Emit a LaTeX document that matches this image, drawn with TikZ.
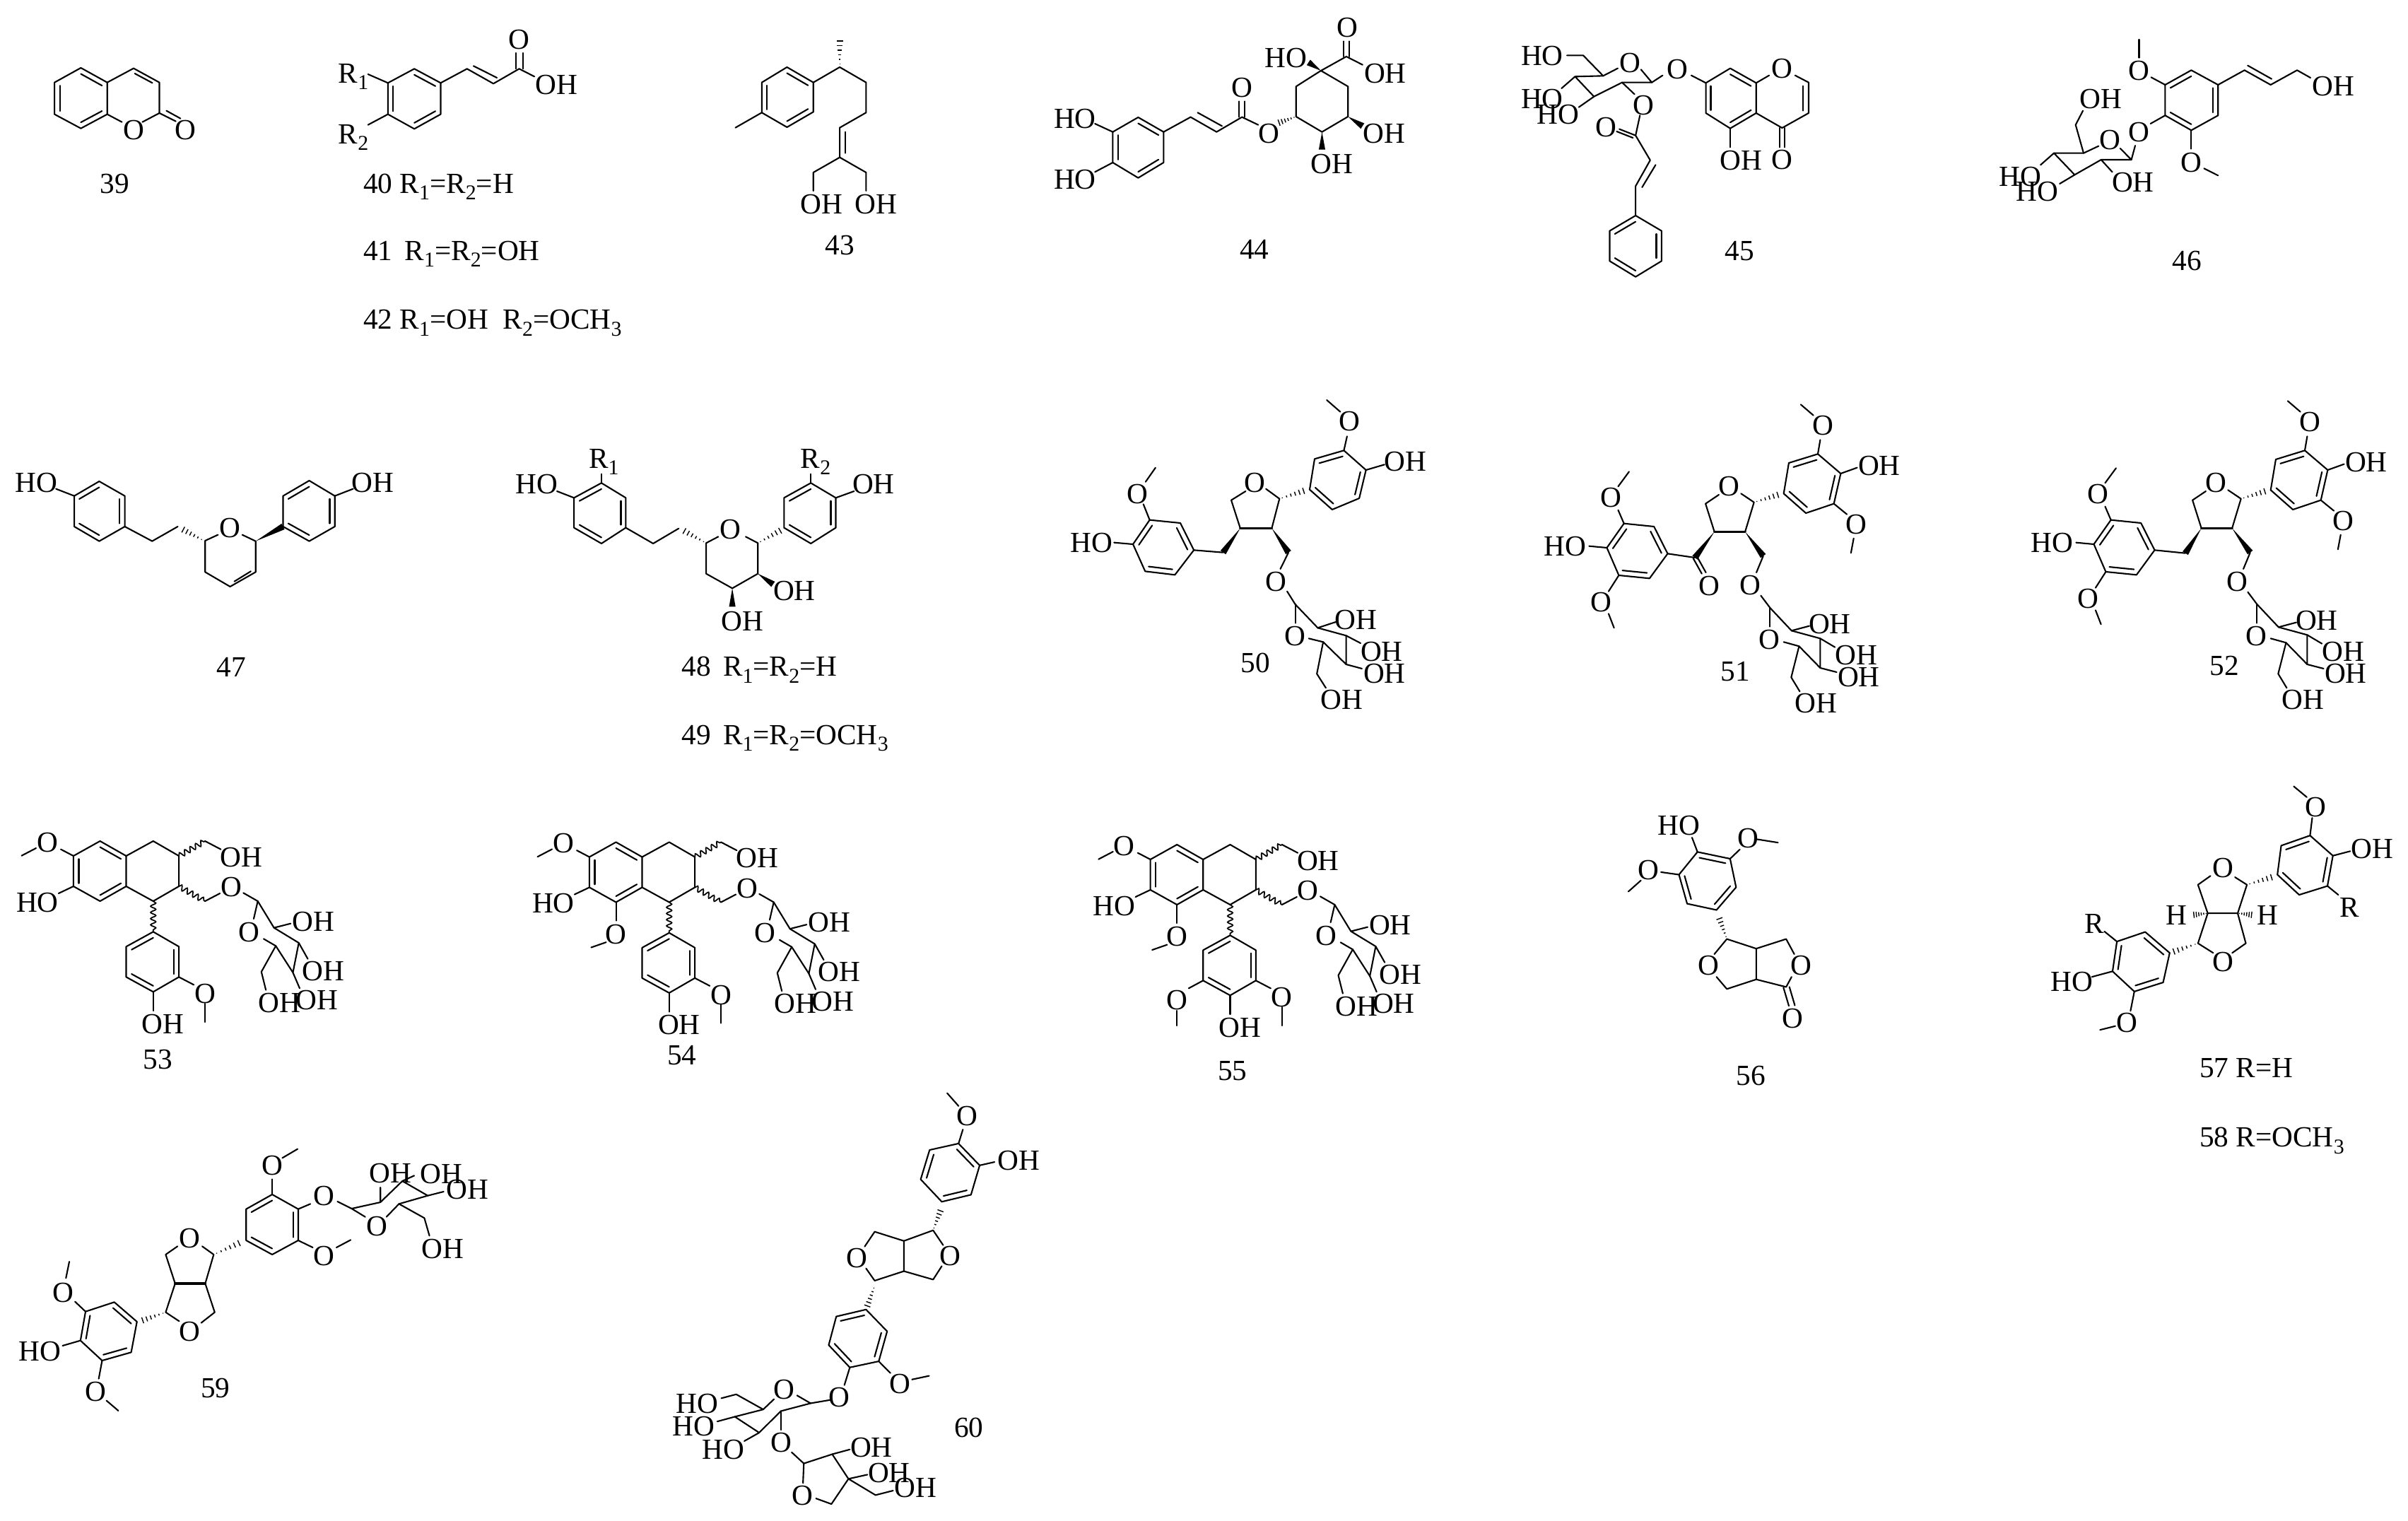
\documentclass[tikz,border=0pt]{standalone}
\usepackage{fontspec}
\setmainfont{Liberation Serif}
\usetikzlibrary{calc,decorations.pathmorphing}
\def\ux{0.02cm}
\newcounter{nd}
\tikzset{
  bond/.style={line width=1.2pt,line cap=round,line join=round},
  wavyb/.style={line width=1pt,decorate,decoration={snake,amplitude=2.1pt,segment length=5pt}},
  atom/.style={inner sep=0pt,outer sep=0pt,font=\fontsize{23.5}{25}\selectfont,text height=15.6pt,text depth=0pt},
  zm/.style n args={4}{shift={(#1*\ux,-#2*\ux)},x=\ux/#3,y=-\ux/#4}
}
\newcommand\B[1]{\draw[bond] #1;}
\newcommand\tx[2]{\stepcounter{nd}\node[atom] (n\arabic{nd}) at (#1) {#2};}
\newcommand\txl[2]{\stepcounter{nd}\node[atom,anchor=west] (n\arabic{nd}) at (#1) {#2};}
\newcommand\sbs[1]{\raisebox{-0.24em}{\fontsize{17}{17}\selectfont #1}}
\newcommand\wdg[2]{\fill ($(#2)!2.6pt!90:(#1)$) -- ($(#2)!2.6pt!-90:(#1)$) -- (#1) -- cycle;}
\newcommand\hsh[2]{\foreach \hs in {0.1,0.25,0.4,0.55,0.7,0.85,1}{\pgfmathsetmacro\hw{\hs*3}\draw[line width=0.8pt] ($(#1)!\hs!(#2)!\hw pt!90:(#2)$) -- ($(#1)!\hs!(#2)!\hw pt!-90:(#2)$);}}
\newcommand\wvy[2]{\draw[wavyb] (#1) -- (#2);}
\newcommand\hexring[7]{
  \coordinate (r1) at (#1);\coordinate (r2) at (#2);\coordinate (r3) at (#3);
  \coordinate (r4) at (#4);\coordinate (r5) at (#5);\coordinate (r6) at (#6);\coordinate (r7) at (#1);
  \coordinate (rc) at ($(r1)!.5!(r4)$);
  \draw[bond] (r1)--(r2)--(r3)--(r4)--(r5)--(r6)--cycle;
  \foreach \ei in {#7}{\pgfmathtruncatemacro\ej{\ei+1}\draw[bond] ($(r\ei)!.2!(rc)$)--($(r\ej)!.2!(rc)$);}
}
% shared body of 51 and 52
\newcommand\ligFive{
  \hexring{1265,292}{1332,375}{1312,503}{1230,543}{1165,460}{1180,330}{6,2,4}
  \tx{1280,170}{O}\B{(1265,292)--(1272,232)}\B{(1252,128)--(1215,82)}
  \tx{1445,340}{OH}\B{(1332,375)--(1380,350)}
  \tx{1378,590}{O}\B{(1312,503)--(1350,548)}\B{(1370,650)--(1362,712)}
  \tx{1005,428}{O}\B{(975,465)--(936,503)--(962,622)}\B{(1052,622)--(1078,497)--(1040,460)}
  \draw[bond,line width=1.9pt] (962,622)--(1052,622);
  \hsh{1078,497}{1160,460}
  \hexring{697,587}{785,600}{825,715}{772,820}{682,807}{647,690}{2,4,6}
  \tx{660,475}{O}\B{(697,587)--(680,530)}\B{(680,430)--(712,367)}
  \tx{525,683}{HO}\B{(647,690)--(595,683)}
  \tx{630,920}{O}\B{(682,807)--(652,875)}\B{(652,970)--(668,1030)}
  \wdg{1052,622}{1105,725}\B{(1105,725)--(1085,795)}\tx{1068,848}{O}
  \B{(1098,893)--(1125,945)--(1188,1042)}\B{(1125,945)--(1125,1025)}\tx{1122,1080}{O}
  \B{(1188,1042)--(1272,1075)--(1272,1200)--(1210,1108)--(1165,1090)}
  \B{(1210,1108)--(1187,1240)--(1212,1300)}\tx{1260,1348}{OH}
  \tx{1300,1012}{OH}\B{(1188,1042)--(1240,1022)}
  \tx{1378,1145}{OH}\B{(1272,1075)--(1315,1112)}
  \tx{1385,1238}{OH}\B{(1272,1200)--(1320,1218)}
}
% shared body of 53, 54 and 55
\newcommand\ligB{
  \hexring{222,180}{280,243}{280,372}{222,435}{163,372}{163,243}{1,3,5}
  \B{(280,243)--(340,180)--(397,243)--(397,372)--(340,435)--(280,372)}
  \tx{105,185}{O}\B{(163,243)--(135,215)}\B{(80,210)--(48,242)}
  \tx{83,440}{HO}\B{(163,372)--(130,402)}
  \wvy{397,243}{455,180}\B{(455,180)--(490,215)}\tx{535,248}{OH}
  \wvy{397,372}{455,435}\B{(455,435)--(488,402)}\tx{513,375}{O}
  \B{(540,400)--(572,435)--(608,548)--(663,612)--(650,738)--(612,625)--(585,595)}
  \B{(572,435)--(563,510)}\tx{553,565}{O}
  \B{(612,625)--(580,735)--(590,812)}\tx{620,865}{OH}
  \B{(608,548)--(645,530)}\tx{695,520}{OH}
  \B{(663,612)--(683,680)}\tx{718,730}{OH}
  \B{(650,738)--(665,805)}\tx{703,855}{OH}
  \wvy{340,435}{340,565}
  \hexring{340,565}{397,628}{397,757}{340,820}{280,757}{280,628}{6,2,4}
  \tx{455,828}{O}\B{(397,757)--(430,790)}\B{(455,870)--(455,948)}
  \tx{362,955}{OH}\B{(340,820)--(340,900)}
}
\begin{document}
\begin{tikzpicture}
\useasboundingbox (0,0) rectangle (3407*\ux,-2151*\ux);
% ---------- 39 to 43
\begin{scope}[zm={0}{0}{1.206}{3}]
  \hexring{138,288}{183,350}{183,485}{138,545}{93,485}{93,350}{1,3,5}
  \B{(183,350)--(228,290)--(272,350)--(272,480)--(243,518)}\B{(183,485)--(208,518)}
  \B{(230,312)--(260,352)}
  \B{(272,480)--(300,515)}\B{(284,470)--(308,503)}
  \tx{228,552}{O}\tx{316,550}{O}\tx{196,778}{39}
  \hexring{707,292}{752,352}{752,485}{707,547}{662,485}{662,352}{1,3,5}
  \tx{603,310}{R\sbs{1}}\B{(662,352)--(628,315)}
  \tx{603,568}{R\sbs{2}}\B{(662,485)--(628,530)}
  \B{(752,352)--(797,292)--(842,355)--(886,292)--(912,325)}
  \B{(808,280)--(848,330)}
  \B{(880,292)--(880,225)}\B{(892,292)--(892,225)}
  \tx{886,168}{O}\tx{950,360}{OH}
  \txl{620,778}{40 R\sbs{1}=R\sbs{2}=H}
  \txl{620,1063}{41\, R\sbs{1}=R\sbs{2}=OH}
  \txl{620,1355}{42 R\sbs{1}=OH\ \ R\sbs{2}=OCH\sbs{3}}
  \hexring{1343,285}{1388,350}{1388,475}{1343,540}{1300,478}{1300,350}{1,3,5}
  \B{(1300,478)--(1255,542)}
  \B{(1388,350)--(1433,285)--(1478,350)--(1478,478)--(1433,542)--(1433,668)--(1388,732)--(1388,810)}
  \B{(1443,560)--(1443,650)}\B{(1433,668)--(1478,732)--(1478,810)}
  \hsh{1433,285}{1433,155}
  \tx{1402,866}{OH}\tx{1495,866}{OH}\tx{1433,1040}{43}
\end{scope}
% ---------- 44, 45
\begin{scope}[zm={1400}{0}{1.307}{3}]
  \hexring{275,498}{322,560}{322,690}{275,755}{228,690}{228,560}{1,3,5}
  \tx{158,502}{HO}\B{(228,560)--(195,525)}
  \tx{158,760}{HO}\B{(228,690)--(195,730)}
  \B{(322,560)--(372,497)--(420,560)--(467,497)--(497,530)}\B{(385,478)--(430,535)}
  \B{(462,497)--(462,430)}\B{(472,497)--(472,430)}
  \tx{467,372}{O}\tx{517,565}{O}
  \B{(613,300)--(663,367)--(663,495)--(615,560)--(567,495)--(567,367)--cycle}
  \hsh{567,495}{530,525}
  \wdg{663,495}{690,535}\tx{730,565}{OH}
  \wdg{615,560}{615,635}\tx{633,695}{OH}
  \wdg{613,300}{590,265}\tx{548,245}{HO}
  \B{(613,300)--(660,240)--(690,275)}
  \B{(655,240)--(655,175)}\B{(665,240)--(665,175)}
  \tx{662,115}{O}\tx{732,310}{OH}\tx{490,1057}{44}
  \hexring{1370,290}{1418,352}{1418,480}{1370,545}{1325,480}{1325,352}{1,3,5}
  \tx{1466,290}{O}\B{(1418,352)--(1442,320)}
  \B{(1490,320)--(1515,350)--(1515,480)--(1466,543)--(1418,480)}\B{(1505,365)--(1505,470)}
  \B{(1461,543)--(1461,625)}\B{(1471,543)--(1471,625)}\tx{1466,678}{O}
  \tx{1390,680}{OH}\B{(1370,545)--(1370,625)}
  \tx{1272,292}{O}\B{(1325,352)--(1298,320)}\B{(1245,320)--(1225,350)}
  \tx{1185,265}{O}
  \B{(1205,295)--(1225,350)--(1170,350)--(1118,410)--(1083,325)--(1135,322)--(1162,290)}
  \B{(1135,322)--(1098,235)--(1068,235)}\tx{1022,237}{HO}
  \B{(1083,325)--(1058,375)}\tx{1022,420}{HO}
  \B{(1118,410)--(1090,455)}\tx{1052,485}{HO}
  \B{(1170,350)--(1193,400)}\tx{1210,445}{O}
  \B{(1203,490)--(1195,575)--(1222,680)--(1195,790)--(1195,915)}
  \B{(1195,575)--(1165,548)}\B{(1190,585)--(1160,558)}\tx{1140,540}{O}
  \B{(1232,700)--(1207,795)}
  \hexring{1195,915}{1243,980}{1243,1108}{1195,1175}{1147,1108}{1147,980}{6,2,4}
  \tx{1387,1065}{45}
\end{scope}
% ---------- 46
\begin{scope}[zm={2700}{0}{2.218}{3}]
  \hexring{888,298}{972,360}{972,490}{888,553}{806,490}{806,360}{6,2,4}
  \tx{724,300}{O}\B{(806,360)--(762,328)}\B{(724,245)--(724,168)}
  \tx{888,688}{O}\B{(888,553)--(888,632)}\B{(928,715)--(972,745)}
  \tx{724,560}{O}\B{(806,490)--(760,525)}
  \B{(972,360)--(1055,298)--(1137,360)--(1220,298)--(1262,330)}\B{(1065,278)--(1140,335)}
  \tx{1333,365}{OH}
  \tx{632,592}{O}
  \B{(712,618)--(700,678)}
  \B{(665,630)--(700,678)--(605,678)--(522,742)--(457,650)--(550,650)--(597,620)}
  \B{(550,650)--(525,530)--(548,470)}\tx{605,420}{OH}
  \B{(457,650)--(415,700)}\tx{352,748}{HO}
  \B{(522,742)--(475,780)}\tx{405,812}{HO}
  \B{(605,678)--(640,730)}\tx{705,772}{OH}
  \tx{875,1105}{46}
\end{scope}
% ---------- 47, 48, 49
\begin{scope}[zm={0}{600}{1.161}{3}]
  \hexring{163,243}{205,305}{205,435}{163,497}{122,435}{122,305}{6,2,4}
  \tx{60,247}{HO}\B{(122,305)--(92,275)}
  \B{(205,435)--(250,497)--(292,435)}\hsh{335,495}{295,440}
  \B{(358,470)--(337,495)--(337,628)--(378,690)--(420,628)--(420,497)--(398,470)}
  \B{(385,668)--(412,625)}
  \tx{378,440}{O}
  \wdg{420,497}{465,435}
  \hexring{508,240}{550,305}{550,435}{508,497}{465,435}{465,305}{6,2,4}
  \tx{612,247}{OH}\B{(550,305)--(580,275)}
  \tx{380,1030}{47}
  \hexring{988,250}{1028,313}{1028,440}{988,507}{943,440}{943,313}{6,2,4}
  \tx{992,145}{R\sbs{1}}\B{(988,250)--(988,212)}
  \tx{882,255}{HO}\B{(943,313)--(915,285)}
  \B{(1028,440)--(1073,507)--(1115,443)}\hsh{1160,505}{1118,445}
  \B{(1180,478)--(1160,505)--(1160,635)--(1203,697)--(1245,635)--(1245,505)--(1225,478)}
  \tx{1200,445}{O}
  \wdg{1245,635}{1270,680}\tx{1305,708}{OH}
  \wdg{1203,697}{1203,775}\tx{1220,835}{OH}
  \hsh{1245,505}{1288,443}
  \hexring{1332,250}{1373,313}{1373,440}{1332,507}{1288,440}{1288,313}{6,2,4}
  \tx{1340,145}{R\sbs{2}}\B{(1332,250)--(1332,212)}
  \tx{1435,255}{OH}\B{(1373,313)--(1403,285)}
  \txl{1120,1028}{48\, R\sbs{1}=R\sbs{2}=H}
  \txl{1120,1318}{49\, R\sbs{1}=R\sbs{2}=OCH\sbs{3}}
\end{scope}
% ---------- 50
\begin{scope}[zm={1450}{540}{1.568}{3}]
  \hexring{708,292}{757,375}{742,495}{682,543}{632,458}{643,328}{6,2,4}
  \tx{720,168}{O}\B{(708,292)--(715,232)}\B{(700,128)--(670,78)}
  \tx{845,338}{OH}\B{(757,375)--(798,352)}
  \tx{510,428}{O}
  \B{(490,465)--(458,503)--(478,622)}\B{(548,622)--(565,497)--(535,455)}
  \draw[bond,line width=1.9pt] (478,622)--(548,622);
  \hsh{565,497}{628,458}
  \wdg{478,622}{440,725}\B{(440,725)--(375,715)}
  \hexring{277,587}{345,600}{375,715}{333,820}{267,805}{240,690}{2,4,6}
  \tx{250,475}{O}\B{(277,587)--(263,520)}\B{(268,425)--(290,365)}
  \tx{148,683}{HO}\B{(240,690)--(198,683)}
  \wdg{548,622}{585,725}\B{(585,725)--(567,795)}\tx{558,848}{O}
  \B{(582,890)--(600,945)--(650,1045)}\B{(600,945)--(600,1025)}\tx{600,1080}{O}
  \B{(650,1045)--(713,1078)--(713,1200)--(662,1105)--(630,1090)}
  \B{(662,1105)--(648,1240)--(668,1300)}\tx{703,1348}{OH}
  \tx{735,1010}{OH}\B{(650,1045)--(690,1020)}
  \tx{792,1145}{OH}\B{(713,1078)--(745,1110)}
  \tx{798,1238}{OH}\B{(713,1200)--(748,1218)}
  \tx{512,1192}{50}
\end{scope}
% ---------- 51
\begin{scope}[zm={1961}{545}{2.07}{3}]
  \ligFive
  \wdg{962,622}{905,732}\B{(905,732)--(825,715)}
  \B{(900,735)--(925,800)}\B{(912,730)--(937,795)}\tx{948,850}{O}
  \tx{1023,1215}{51}
\end{scope}
% ---------- 52
\begin{scope}[zm={2650}{540}{2.07}{3}]
  \ligFive
  \wdg{962,622}{915,728}\B{(915,728)--(825,715)}
  \tx{1030,1205}{52}
\end{scope}
% ---------- 53
\begin{scope}[zm={0}{1130}{1.568}{3}]
  \ligB
  \tx{350,1105}{53}
\end{scope}
% ---------- 54
\begin{scope}[zm={730}{1131.5}{1.568}{3}]
  \ligB
  \B{(222,435)--(222,513)}\tx{222,570}{O}\B{(200,605)--(167,627)}
  \tx{368,1085}{54}
\end{scope}
% ---------- 55
\begin{scope}[zm={1523.7}{1135}{1.568}{3}]
  \ligB
  \B{(222,435)--(222,513)}\tx{222,570}{O}\B{(200,605)--(167,627)}
  \tx{222,838}{O}\B{(280,757)--(248,790)}\B{(222,885)--(222,948)}
  \tx{345,1140}{55}
\end{scope}
% ---------- 56, 57, 58
\begin{scope}[zm={2200}{1100}{1.299}{2.8}]
  \hexring{262,295}{322,322}{333,435}{297,525}{243,500}{228,385}{1,3,5}
  \tx{228,190}{HO}\B{(262,295)--(252,238)}
  \tx{355,240}{O}\B{(322,322)--(340,285)}\B{(372,245)--(410,258)}
  \tx{172,365}{O}\B{(228,385)--(195,375)}\B{(158,408)--(135,452)}
  \hsh{316,640}{300,545}
  \B{(293,700)--(316,640)--(370,678)--(370,800)--(316,838)--(297,790)}
  \tx{283,745}{O}
  \B{(370,678)--(425,640)--(440,700)}\tx{453,745}{O}
  \B{(370,800)--(425,830)--(435,790)}
  \B{(420,832)--(430,905)}\B{(431,830)--(441,903)}\tx{437,955}{O}
  \tx{360,1180}{56}
  \hexring{1388,230}{1430,310}{1420,430}{1368,465}{1328,385}{1335,270}{6,2,4}
  \tx{1398,118}{O}\B{(1388,230)--(1392,160)}\B{(1382,78)--(1358,35)}
  \tx{1502,283}{OH}\B{(1430,310)--(1462,292)}
  \tx{1460,515}{R}\B{(1420,430)--(1440,465)}
  \hsh{1272,425}{1325,390}
  \tx{1228,358}{O}
  \B{(1205,390)--(1182,425)--(1200,538)--(1255,538)--(1272,425)--(1250,395)}
  \B{(1200,538)--(1182,657)--(1210,695)}\tx{1228,730}{O}
  \B{(1245,695)--(1270,657)--(1255,538)}
  \hsh{1182,657}{1130,695}
  \hsh{1200,538}{1170,545}\tx{1143,545}{H}
  \hsh{1255,538}{1285,545}\tx{1310,545}{H}
  \hexring{1085,612}{1130,695}{1118,812}{1065,848}{1025,768}{1033,650}{1,3,5}
  \tx{992,580}{R}\B{(1033,650)--(1010,610)}
  \tx{950,810}{HO}\B{(1025,768)--(987,790)}
  \tx{1052,970}{O}\B{(1065,848)--(1058,925)}\B{(1030,985)--(1002,1000)}
  \txl{1185,1150}{57 R=H}
  \txl{1185,1425}{58 R=OCH\sbs{3}}
\end{scope}
% ---------- 59
\begin{scope}[zm={0}{1600}{2.09}{3}]
  \hexring{805,270}{882,332}{882,465}{805,525}{728,465}{728,332}{6,2,4}
  \tx{805,145}{O}\B{(805,270)--(805,205)}\B{(835,115)--(880,77)}
  \tx{958,275}{O}\B{(882,332)--(918,310)}\B{(998,300)--(1040,330)}
  \tx{958,530}{O}\B{(882,465)--(925,495)}\B{(995,495)--(1037,463)}
  \B{(1080,365)--(1040,330)--(1125,303)--(1125,240)}\tx{1115,403}{O}\tx{1155,178}{OH}
  \B{(1125,303)--(1190,213)--(1265,275)--(1180,310)--(1143,365)}
  \B{(1190,213)--(1225,190)}\tx{1305,183}{OH}
  \B{(1265,275)--(1312,258)}\tx{1383,248}{OH}
  \B{(1180,310)--(1255,370)--(1270,445)}\tx{1310,500}{OH}
  \tx{560,455}{O}
  \B{(525,490)--(490,525)--(518,648)}\B{(607,648)--(632,525)--(598,490)}
  \draw[bond,line width=1.9pt] (518,648)--(607,648);
  \hsh{632,525}{720,468}
  \B{(518,648)--(490,770)--(530,808)}\tx{562,850}{O}
  \B{(595,815)--(635,770)--(607,648)}
  \hsh{490,770}{410,810}
  \hexring{338,727}{405,810}{388,940}{302,975}{238,890}{253,767}{1,3,5}
  \tx{187,685}{O}\B{(253,767)--(222,725)}\B{(195,625)--(205,555)}
  \tx{118,935}{HO}\B{(238,890)--(185,912)}
  \tx{283,1105}{O}\B{(302,975)--(292,1052)}\B{(315,1145)--(350,1188)}
  \tx{637,1090}{59}
\end{scope}
% ---------- 60
\begin{scope}[zm={900}{1530}{2.613}{2.525}]
  \hexring{1192,222}{1270,300}{1238,405}{1130,430}{1052,350}{1085,245}{1,3,5}
  \tx{1224,122}{O}\B{(1192,222)--(1208,172)}\B{(1192,88)--(1150,42)}
  \tx{1415,282}{OH}\B{(1270,300)--(1325,288)}
  \hsh{1098,532}{1130,450}
  \B{(1135,585)--(1098,532)--(990,570)--(990,678)--(882,712)--(850,668)}
  \tx{1160,622}{O}\tx{815,630}{O}
  \B{(1130,660)--(1098,708)--(990,678)}
  \B{(845,590)--(882,537)--(990,570)}
  \hsh{882,730}{850,815}
  \hexring{850,815}{928,893}{897,1000}{790,1022}{712,942}{740,840}{6,2,4}
  \tx{975,1080}{O}\B{(897,1000)--(940,1042)}\B{(1020,1065)--(1083,1052)}
  \tx{752,1128}{O}\B{(790,1022)--(770,1085)}\B{(718,1138)--(645,1150)}
  \tx{548,1100}{O}
  \B{(595,1122)--(645,1150)--(535,1178)--(455,1255)--(365,1198)--(470,1172)--(510,1135)}
  \B{(470,1172)--(370,1118)--(315,1132)}\tx{225,1150}{HO}
  \B{(365,1198)--(300,1215)}\tx{212,1232}{HO}
  \B{(455,1255)--(400,1285)}\tx{322,1315}{HO}
  \B{(535,1178)--(535,1245)}\tx{537,1290}{O}
  \B{(575,1325)--(620,1365)--(725,1332)--(785,1420)--(722,1510)--(665,1490)}
  \tx{615,1480}{O}\B{(620,1365)--(617,1435)}
  \B{(725,1332)--(790,1315)}\tx{870,1308}{OH}
  \B{(785,1420)--(855,1405)}\tx{935,1398}{OH}
  \B{(785,1420)--(885,1478)--(950,1462)}\tx{1033,1452}{OH}
  \tx{1230,1237}{60}
\end{scope}
\end{tikzpicture}
\end{document}
